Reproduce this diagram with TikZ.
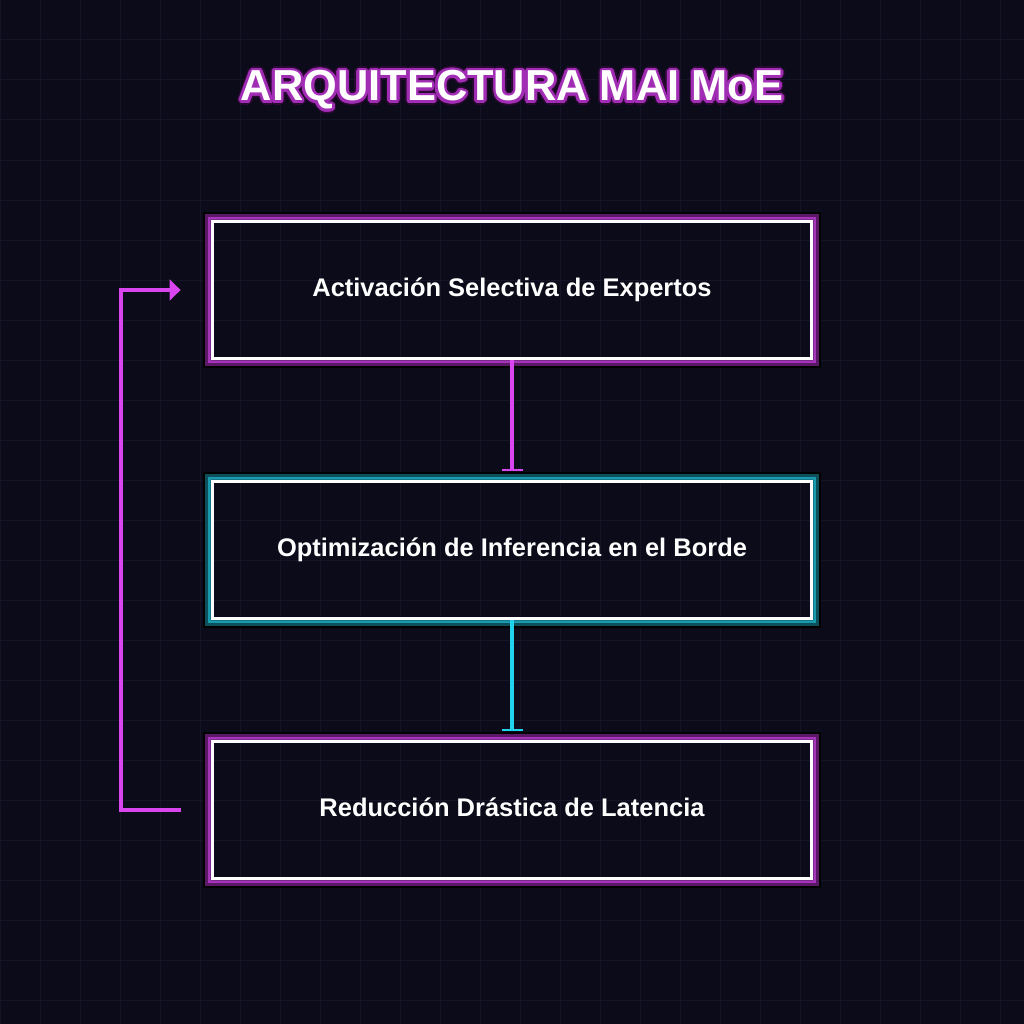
\documentclass[tikz,border=0pt]{standalone}
\usepackage{fontspec}
\setmainfont{Liberation Sans}
\newfontfamily\titlefont{Liberation Sans Bold}
\usetikzlibrary{arrows.meta}

\definecolor{bgc}{HTML}{0B0B19}
\definecolor{gridc}{HTML}{151528}
\definecolor{mag}{HTML}{D946EF}
\definecolor{cyn}{HTML}{22D3EE}
\definecolor{magglow}{HTML}{A235B8}
\definecolor{magdark}{HTML}{5A1866}
\definecolor{cynglow}{HTML}{1A9AAE}
\definecolor{cyndark}{HTML}{0D4F5A}
\definecolor{titleglow}{HTML}{A22DB5}
\definecolor{titledark}{HTML}{2A0A33}

\begin{document}
\begin{tikzpicture}[x=0.02cm,y=-0.02cm,box/.style={draw=white,line width=0.06cm,rectangle,minimum width=12cm,minimum height=2.76cm,inner sep=0pt,text=white,text height=0.36cm,text depth=0.12cm,font=\bfseries\fontsize{14.5}{17}\selectfont},titletext/.style={anchor=base,inner sep=0pt,font=\titlefont\fontsize{24.7}{28}\selectfont},magflow/.style={draw=mag,line width=0.08cm,-{Bar[width=0.42cm,line width=0.04cm]},shorten >=0.17cm},cynflow/.style={draw=cyn,line width=0.08cm,-{Bar[width=0.42cm,line width=0.04cm]},shorten >=0.17cm},loopback/.style={draw=mag,line width=0.08cm,-{Triangle[length=0.22cm,width=0.42cm]}}]
\useasboundingbox (0,0) rectangle (1024,1024);
\fill[bgc] (0,0) rectangle (1024,1024);
\foreach \g in {0,40,...,1000} {
  \draw[gridc,line width=0.02cm] (\g,0) -- (\g,1024);
  \draw[gridc,line width=0.02cm] (0,\g) -- (1024,\g);
}
% title with glow
\foreach \a in {0,20,...,340} {
  \node[titletext,text=titledark,shift={(\a:4.5)}] (titleedge\a) at (512,101) {ARQUITECTURA MAI MoE};
}
\foreach \a in {0,20,...,340} {
  \node[titletext,text=titleglow,shift={(\a:2.8)}] (titleglow\a) at (512,101) {ARQUITECTURA MAI MoE};
}
\node[titletext,text=white] (title) at (512,101) {ARQUITECTURA MAI MoE};
% boxes
\node[box] (act) at (512,290) {Activación Selectiva de Expertos};
\node[box] (opt) at (512,550) {Optimización de Inferencia en el Borde};
\node[box] (red) at (512,810) {Reducción Drástica de Latencia};
% glow outside the boxes
\foreach \bx/\gl/\dk in {act/magglow/magdark,opt/cynglow/cyndark,red/magglow/magdark} {
  \begin{scope}[even odd rule]
    \clip (0,0) rectangle (1024,1024) (\bx.south west) rectangle (\bx.north east);
    \draw[black,line width=0.32cm] (\bx.south west) rectangle (\bx.north east);
    \draw[\dk,line width=0.24cm] (\bx.south west) rectangle (\bx.north east);
    \draw[\gl,line width=0.12cm] (\bx.south west) rectangle (\bx.north east);
  \end{scope}
}
% connectors
\path (act) edge[magflow] (opt);
\path (opt) edge[cynflow] (red);
\coordinate (loopout) at ([xshift=-0.6cm]red.west);
\coordinate (loopin) at ([xshift=-0.6cm]act.west);
\draw[loopback] (loopout) -- ++(-60,0) |- (loopin);
\end{tikzpicture}
\end{document}
